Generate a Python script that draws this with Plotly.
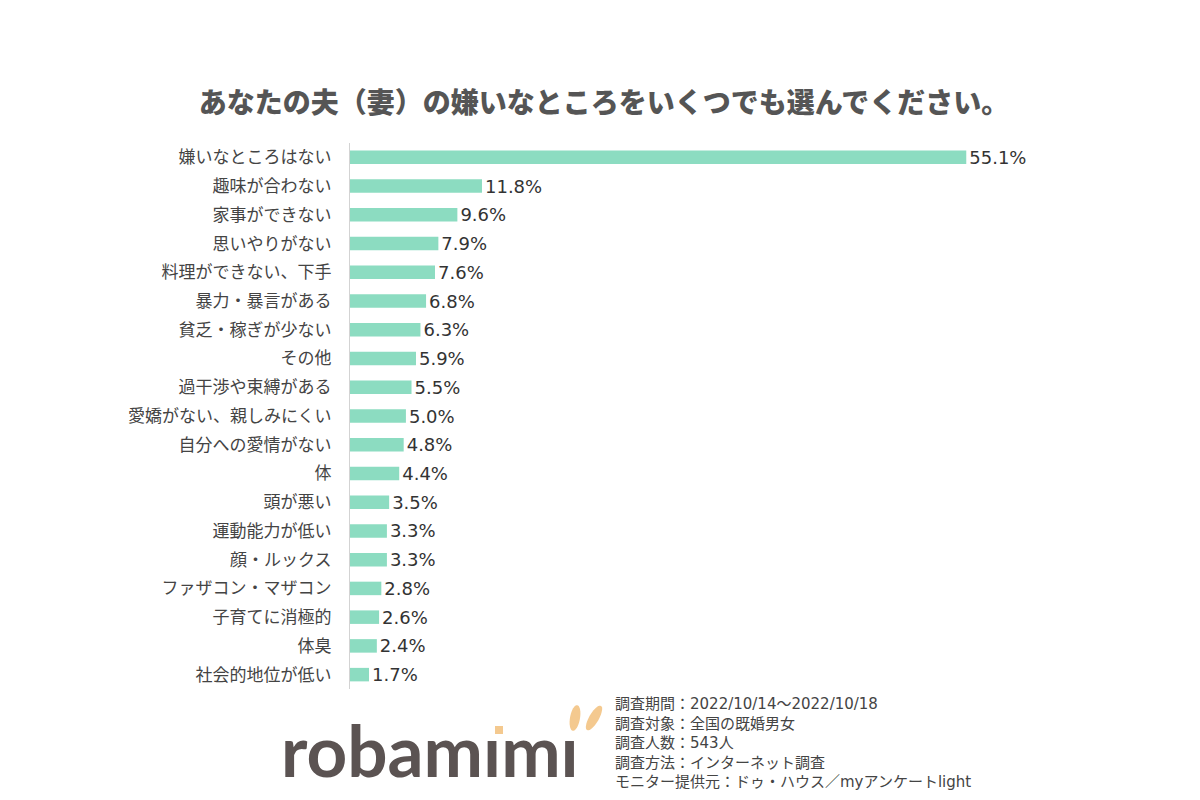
import math
import plotly.graph_objects as go

categories = [
    "嫌いなところはない", "趣味が合わない", "家事ができない", "思いやりがない",
    "料理ができない、下手", "暴力・暴言がある", "貧乏・稼ぎが少ない", "その他",
    "過干渉や束縛がある", "愛嬌がない、親しみにくい", "自分への愛情がない", "体",
    "頭が悪い", "運動能力が低い", "顔・ルックス", "ファザコン・マザコン",
    "子育てに消極的", "体臭", "社会的地位が低い",
]
values = [55.1, 11.8, 9.6, 7.9, 7.6, 6.8, 6.3, 5.9, 5.5, 5.0, 4.8, 4.4,
          3.5, 3.3, 3.3, 2.8, 2.6, 2.4, 1.7]

title_text = "あなたの夫（妻）の嫌いなところをいくつでも選んでください。"
notes = [
    "調査期間：2022/10/14～2022/10/18",
    "調査対象：全国の既婚男女",
    "調査人数：543人",
    "調査方法：インターネット調査",
    "モニター提供元：ドゥ・ハウス／myアンケートlight",
]

JP = "Noto Sans CJK JP"
L, R, T, B = 350, 123, 143, 111
PW, PH = 1200 - L - R, 800 - T - B

fig = go.Figure(go.Bar(
    x=values, y=categories, orientation="h",
    marker=dict(color="#8cdcc1", line=dict(width=0)),
    width=0.47,
    texttemplate="%{x:.1f}%", textposition="outside",
    constraintext="none",
    textfont=dict(family="DejaVu Sans", size=18, color="#333333"),
    cliponaxis=False,
    hoverinfo="skip",
))

fig.update_layout(
    width=1200, height=800,
    paper_bgcolor="white", plot_bgcolor="white",
    margin=dict(l=L, r=R, t=T, b=B, autoexpand=False),
    showlegend=False,
    title=dict(text=title_text, x=604 / 1200, xanchor="center", y=1 - 103 / 800,
               yref="container", yanchor="middle",
               font=dict(family=JP, size=28, color="#555555", weight=900)),
    xaxis=dict(range=[0, 65], visible=False),
    yaxis=dict(autorange="reversed", showline=True, linecolor="#d3d3d3", linewidth=1,
               ticks="", showgrid=False, ticklabelstandoff=14,
               tickfont=dict(family=JP, size=17, color="#444444")),
    bargap=0.5,
)


def px(x, y):
    return (x - L) / PW, (800 - B - y) / PH


# footnote
fx, fy = px(613, 693)
fig.add_annotation(
    text="<br>".join(notes), xref="paper", yref="paper", x=fx, y=fy,
    xanchor="left", yanchor="top", align="left",
    showarrow=False, font=dict(family="DejaVu Sans, " + JP, size=15, color="#444444"),
)

# logo text (dotless i, dots/ears drawn as shapes)
lx, ly = px(279, 749)
fig.add_annotation(
    text="<b>robamımı</b>", xref="paper", yref="paper",
    x=lx, y=ly, xanchor="left", yanchor="middle",
    showarrow=False, font=dict(family="Lato", size=71, color="#5b5352"),
)

# orange dot of first i
x0, y0 = px(495, 726); x1, y1 = px(503, 734)
fig.add_shape(type="rect", xref="paper", yref="paper", x0=x0, y0=y0, x1=x1, y1=y1,
              fillcolor="#f4c98f", line=dict(width=0))


def ellipse_path(cx, cy, rx, ry, ang_deg, n=40):
    a = math.radians(ang_deg)
    pts = []
    for k in range(n):
        t = 2 * math.pi * k / n
        ex, ey = rx * math.cos(t), ry * math.sin(t)
        X = cx + ex * math.cos(a) - ey * math.sin(a)
        Y = cy + ex * math.sin(a) + ey * math.cos(a)
        pts.append(px(X, Y))
    return "M " + " L ".join(f"{p[0]:.5f},{p[1]:.5f}" for p in pts) + " Z"


for (cx, cy, rx, ry, ang) in [(575, 718, 5, 13, 10), (594, 718, 4.8, 14, 30)]:
    fig.add_shape(type="path", xref="paper", yref="paper",
                  path=ellipse_path(cx, cy, rx, ry, ang),
                  fillcolor="#f4c98f", line=dict(width=0))

fig.write_html("out.html", config={"displayModeBar": False},
               post_script="document.body.style.margin='0';")
